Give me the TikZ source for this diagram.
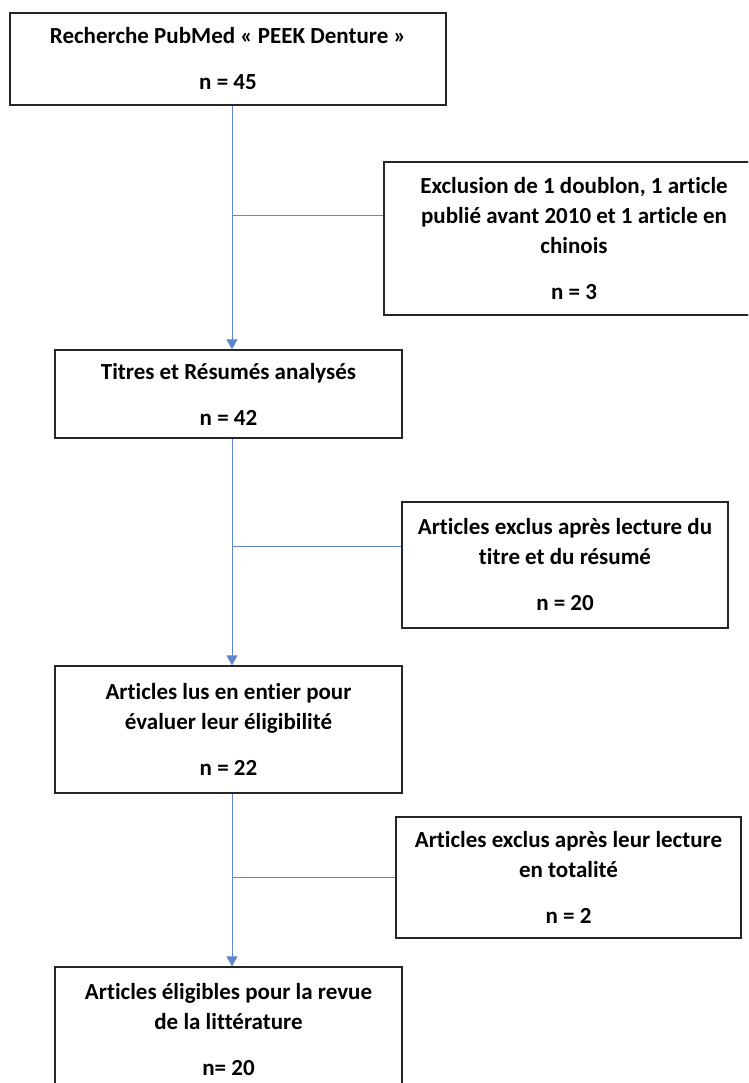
\documentclass[tikz,border=0pt]{standalone}
\usepackage{fontspec}
\setmainfont{Carlito}[Ligatures={NoCommon},RawFeature={-calt}]
\usetikzlibrary{arrows.meta}
\definecolor{linkblue}{HTML}{4472C4}
\begin{document}
\begin{tikzpicture}[x=1pt,y=-1pt,
  box/.style={draw=black!85,line width=1.3pt,inner sep=0pt,align=center,
    font=\fontsize{23}{30}\selectfont\bfseries,anchor=center},
  link/.style={draw=linkblue!85,line width=1pt},
  arr/.style={link,-{Triangle[length=10pt,width=11pt]}}]
\useasboundingbox (0,0) rectangle (748,1083);
\clip (0,0) rectangle (748,1083);
\node[box,minimum width=436pt,minimum height=92pt] (b1) at (228,59)
  {Recherche PubMed « PEEK Denture »\\[16pt]n = 45};
\node[box,minimum width=380pt,minimum height=153pt] (b2) at (574,238.5)
  {Exclusion de 1 doublon, 1 article\\publié avant 2010 et 1 article en\\chinois\\[16pt]n = 3};
\node[box,minimum width=347pt,minimum height=88pt] (b3) at (228.5,394)
  {Titres et Résumés analysés\\[16pt]n = 42};
\node[box,minimum width=326pt,minimum height=126pt] (b4) at (565,565)
  {Articles exclus après lecture du\\titre et du résumé\\[16pt]n = 20};
\node[box,minimum width=347pt,minimum height=127pt] (b5) at (228.5,729.5)
  {Articles lus en entier pour\\évaluer leur éligibilité\\[16pt]n = 22};
\node[box,minimum width=345pt,minimum height=121pt] (b6) at (568.5,877.5)
  {Articles exclus après leur lecture\\en totalité\\[16pt]n = 2};
\node[box,minimum width=347pt,minimum height=125pt] (b7) at (228.5,1029.5)
  {Articles éligibles pour la revue\\de la littérature\\[16pt]n= 20};
\coordinate (sp) at (232,0);
\coordinate (j1) at (232,216);
\coordinate (j2) at (232,546);
\coordinate (j3) at (232,877);
\draw[arr] (b1.south -| sp) -- (b3.north -| sp);
\draw[arr] (b3.south -| sp) -- (b5.north -| sp);
\draw[arr] (b5.south -| sp) -- (b7.north -| sp);
\draw[link] (j1) -- (j1 -| b2.west);
\draw[link] (j2) -- (j2 -| b4.west);
\draw[link] (j3) -- (j3 -| b6.west);
\end{tikzpicture}
\end{document}
